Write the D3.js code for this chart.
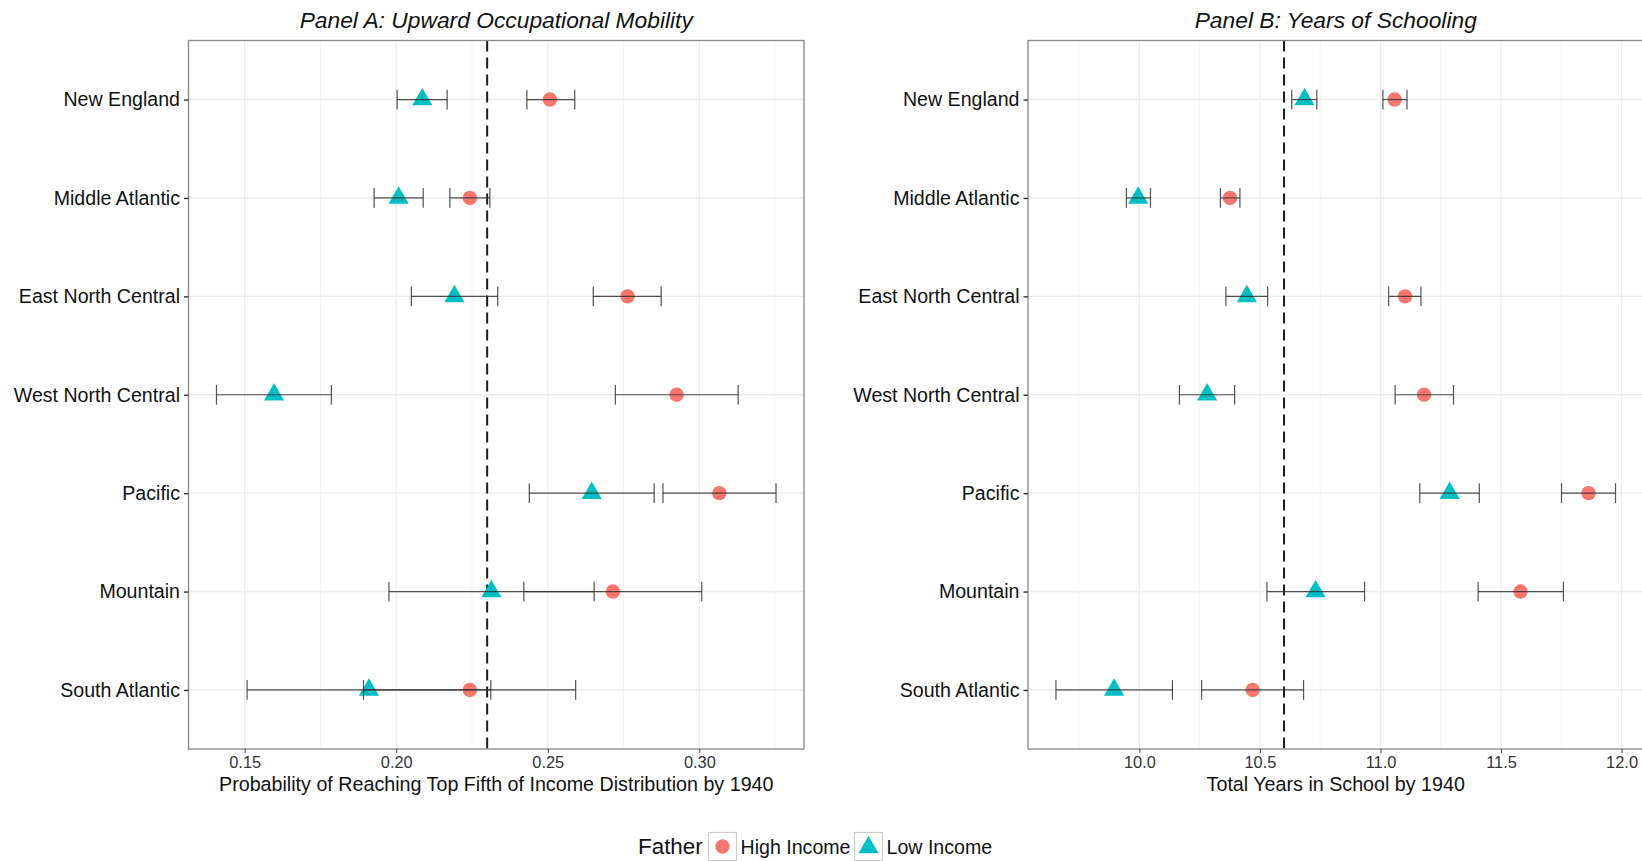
<!DOCTYPE html>
<html>
<head>
<meta charset="utf-8">
<script src="https://cdnjs.cloudflare.com/ajax/libs/d3/7.8.5/d3.min.js"></script>
<style>
  html, body { margin: 0; padding: 0; background: #fff; }
  svg { display: block; font-family: "Liberation Sans", Arial, Helvetica, sans-serif; }
</style>
</head>
<body>
<svg id="chart" width="1642" height="861"></svg>
<script>
// regions, top to bottom
const regions = ['New England', 'Middle Atlantic', 'East North Central', 'West North Central', 'Pacific', 'Mountain', 'South Atlantic'];

// Panel A: probability of reaching top fifth by 1940
const mobHighEst = [0.2507, 0.2243, 0.2763, 0.2925, 0.3066, 0.2715, 0.2243];
const mobHighLo  = [0.2431, 0.2177, 0.2650, 0.2723, 0.2880, 0.2421, 0.1892];
const mobHighHi  = [0.2589, 0.2309, 0.2874, 0.3128, 0.3253, 0.3008, 0.2592];
const mobLowEst  = [0.2086, 0.2008, 0.2192, 0.1597, 0.2645, 0.2314, 0.1910];
const mobLowLo   = [0.2003, 0.1927, 0.2050, 0.1407, 0.2439, 0.1976, 0.1508];
const mobLowHi   = [0.2168, 0.2089, 0.2335, 0.1786, 0.2851, 0.2653, 0.2312];
const mobRef = 0.23;
const mobTicks = [0.15, 0.20, 0.25, 0.30];

// Panel B: total years in school by 1940
const schHighEst = [11.059, 10.376, 11.102, 11.181, 11.863, 11.581, 10.470];
const schHighLo  = [11.010, 10.336, 11.034, 11.061, 11.751, 11.405, 10.258];
const schHighHi  = [11.110, 10.417, 11.168, 11.303, 11.975, 11.759, 10.681];
const schLowEst  = [10.685, 9.995, 10.446, 10.281, 11.287, 10.731, 9.895];
const schLowLo   = [10.632, 9.946, 10.359, 10.166, 11.163, 10.529, 9.654];
const schLowHi   = [10.736, 10.046, 10.532, 10.395, 11.410, 10.934, 10.137];
const schRef = 10.6;
const schTicks = [10.0, 10.5, 11.0, 11.5, 12.0];

const seriesNames = ['High Income', 'Low Income'];
const seriesColors = ['#F8766D', '#00BFC4'];

const svg = d3.select('#chart');
const plotTop = 40.5, plotBottom = 749;

const triangle = d3.symbol().type(d3.symbolTriangle).size(175);

function drawPanel(opts) {
  const { left, right, title, xTitle, ticks, ref, series } = opts;
  const g = svg.append('g');

  // 5% expansion like ggplot
  const all = series.flatMap(s => s.lo.concat(s.hi));
  const [mn, mx] = d3.extent(all);
  const pad = (mx - mn) * 0.05;
  const x = d3.scaleLinear().domain([mn - pad, mx + pad]).range([left, right]);
  const y = d3.scalePoint().domain(regions).range([plotTop, plotBottom]).padding(0.6);
  const cap = y.step() * 0.1;

  // minor grid at midpoints
  const step = ticks[1] - ticks[0];
  const minor = d3.range(ticks[0] - step / 2, x.domain()[1], step).filter(v => v > x.domain()[0]);
  g.append('g').selectAll('line').data(minor).enter().append('line')
    .attr('x1', d => x(d)).attr('x2', d => x(d)).attr('y1', plotTop).attr('y2', plotBottom)
    .attr('stroke', '#f5f5f5').attr('stroke-width', 1);
  g.append('g').selectAll('line').data(ticks).enter().append('line')
    .attr('x1', d => x(d)).attr('x2', d => x(d)).attr('y1', plotTop).attr('y2', plotBottom)
    .attr('stroke', '#ebebeb').attr('stroke-width', 1.2);
  g.append('g').selectAll('line').data(regions).enter().append('line')
    .attr('x1', left).attr('x2', right).attr('y1', d => y(d)).attr('y2', d => y(d))
    .attr('stroke', '#ebebeb').attr('stroke-width', 1.4);

  // reference line
  g.append('line')
    .attr('x1', x(ref)).attr('x2', x(ref)).attr('y1', plotTop).attr('y2', plotBottom)
    .attr('stroke', '#1a1a1a').attr('stroke-width', 2).attr('stroke-dasharray', '11,6');

  // points
  series.forEach((s, si) => {
    const pts = g.append('g').selectAll('path').data(regions).enter();
    if (si === 0) {
      pts.append('circle')
        .attr('cx', (d, i) => x(s.est[i])).attr('cy', d => y(d)).attr('r', 7.2)
        .attr('fill', seriesColors[si]);
    } else {
      pts.append('path')
        .attr('d', triangle)
        .attr('transform', (d, i) => `translate(${x(s.est[i])},${y(d)})`)
        .attr('fill', seriesColors[si]);
    }
  });

  // error bars
  series.forEach(s => {
    const eb = g.append('g').attr('stroke', '#333').attr('stroke-width', 1.2).attr('stroke-opacity', 0.85);
    regions.forEach((r, i) => {
      const cy = y(r);
      eb.append('line').attr('x1', x(s.lo[i])).attr('x2', x(s.hi[i])).attr('y1', cy).attr('y2', cy);
      eb.append('line').attr('x1', x(s.lo[i])).attr('x2', x(s.lo[i])).attr('y1', cy - cap).attr('y2', cy + cap);
      eb.append('line').attr('x1', x(s.hi[i])).attr('x2', x(s.hi[i])).attr('y1', cy - cap).attr('y2', cy + cap);
    });
  });

  // panel border
  g.append('rect')
    .attr('x', left).attr('y', plotTop).attr('width', right - left).attr('height', plotBottom - plotTop)
    .attr('fill', 'none').attr('stroke', '#888').attr('stroke-width', 1.3);

  // x axis
  const xa = g.append('g').attr('transform', `translate(0,${plotBottom})`)
    .call(d3.axisBottom(x).tickValues(ticks).tickFormat(d3.format(ticks[0] < 1 ? '.2f' : '.1f')).tickSize(4).tickPadding(3));
  xa.select('.domain').remove();
  xa.selectAll('line').attr('stroke', '#444');
  xa.selectAll('text').attr('font-size', 16.4).attr('fill', '#333').attr('font-family', null);

  // y axis
  const ya = g.append('g').attr('transform', `translate(${left},0)`)
    .call(d3.axisLeft(y).tickSize(4.5).tickPadding(4));
  ya.select('.domain').remove();
  ya.selectAll('line').attr('stroke', '#333').attr('stroke-width', 1.4);
  ya.selectAll('text').attr('font-size', 19.6).attr('fill', '#111').attr('font-family', null);

  // titles
  g.append('text')
    .attr('x', (left + right) / 2).attr('y', 28)
    .attr('text-anchor', 'middle').attr('font-size', 22.8).attr('font-style', 'italic').attr('fill', '#111')
    .text(title);
  g.append('text')
    .attr('x', (left + right) / 2).attr('y', 791)
    .attr('text-anchor', 'middle').attr('font-size', 19.7).attr('fill', '#111')
    .text(xTitle);
}

drawPanel({
  left: 188.5, right: 804,
  title: 'Panel A: Upward Occupational Mobility',
  xTitle: 'Probability of Reaching Top Fifth of Income Distribution by 1940',
  ticks: mobTicks, ref: mobRef,
  series: [
    { est: mobHighEst, lo: mobHighLo, hi: mobHighHi },
    { est: mobLowEst, lo: mobLowLo, hi: mobLowHi }
  ]
});

drawPanel({
  left: 1028, right: 1643.5,
  title: 'Panel B: Years of Schooling',
  xTitle: 'Total Years in School by 1940',
  ticks: schTicks, ref: schRef,
  series: [
    { est: schHighEst, lo: schHighLo, hi: schHighHi },
    { est: schLowEst, lo: schLowLo, hi: schLowHi }
  ]
});

// legend
const legend = svg.append('g');
legend.append('text').attr('x', 638).attr('y', 854).attr('font-size', 22.4).attr('fill', '#111').text('Father');
const keyX = [708.5, 854.5];
seriesNames.forEach((name, i) => {
  const kx = keyX[i], ky = 832.5;
  legend.append('rect').attr('x', kx).attr('y', ky).attr('width', 28).attr('height', 28)
    .attr('fill', '#fff').attr('stroke', '#ccc').attr('stroke-width', 1.2);
  if (i === 0) {
    legend.append('circle').attr('cx', kx + 14).attr('cy', ky + 14).attr('r', 7.2).attr('fill', seriesColors[i]);
  } else {
    legend.append('path').attr('d', triangle).attr('transform', `translate(${kx + 14},${ky + 15})`).attr('fill', seriesColors[i]);
  }
  legend.append('text').attr('x', kx + 32).attr('y', ky + 21).attr('font-size', 19.6).attr('fill', '#111').text(name);
});
</script>
</body>
</html>
